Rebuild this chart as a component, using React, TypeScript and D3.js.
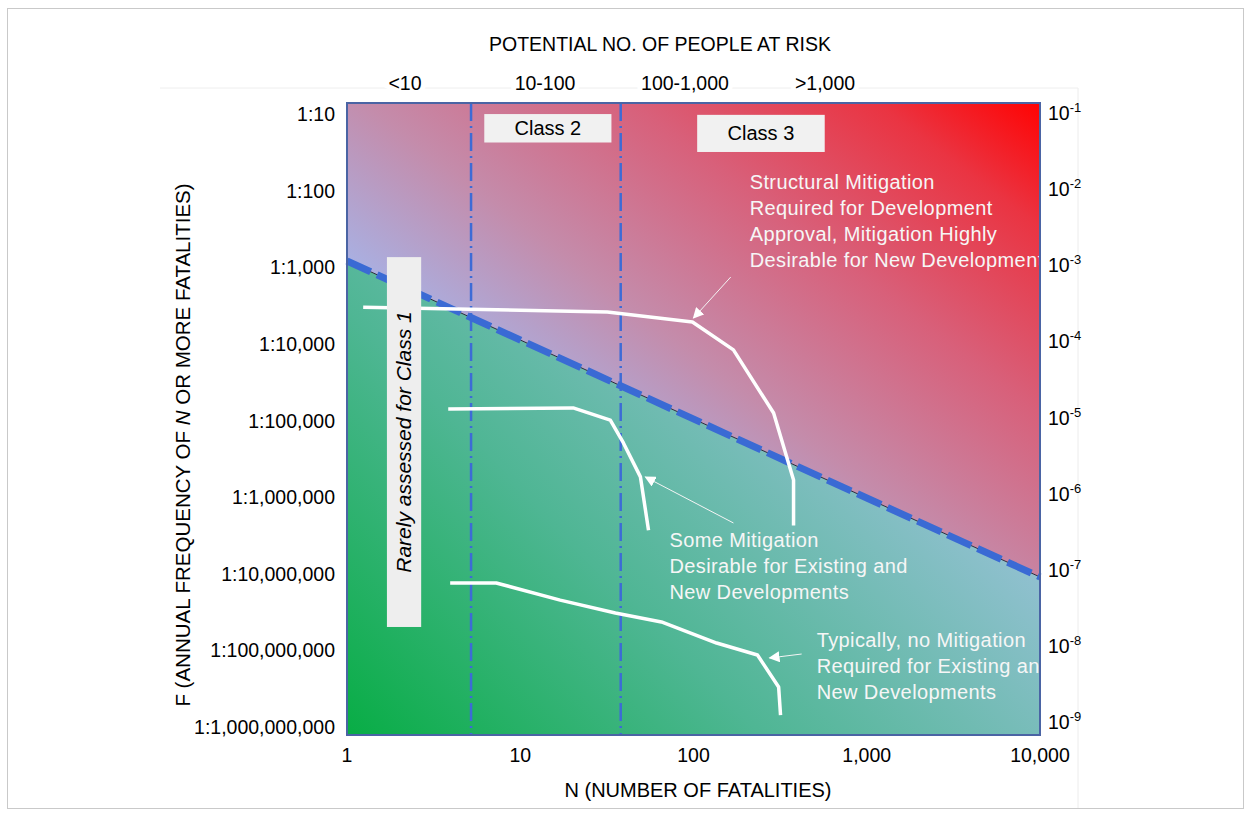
import * as d3 from "d3";

// axes
const nTicks = [1, 10, 100, 1000, 10000];
const nTickLabels = ["1", "10", "100", "1,000", "10,000"];
const fTicks = [1e-1, 1e-2, 1e-3, 1e-4, 1e-5, 1e-6, 1e-7, 1e-8, 1e-9];
const fLeftLabels = ["1:10", "1:100", "1:1,000", "1:10,000", "1:100,000", "1:1,000,000", "1:10,000,000", "1:100,000,000", "1:1,000,000,000"];
const fRightExp = ["-1", "-2", "-3", "-4", "-5", "-6", "-7", "-8", "-9"];
const riskCategories = ["<10", "10-100", "100-1,000", ">1,000"];

// class boundaries (N) and the criterion line
const classBounds = [5.2, 38];
const criterionN = [1, 10000];
const criterionF = [1e-3, 1e-7];

// white F-N curves
const upperN = [1.24, 31.8, 98.6, 170, 290, 378, 378];
const upperF = [2.6e-4, 2.26e-4, 1.69e-4, 7.5e-5, 1.19e-5, 1.69e-6, 4.5e-7];
const middleN = [3.84, 20.2, 33.1, 39.4, 49.4, 55];
const middleF = [1.34e-5, 1.38e-5, 9.7e-6, 4.97e-6, 1.85e-6, 3.9e-7];
const lowerN = [3.94, 7.27, 17.0, 35.4, 65.3, 136, 234, 310, 318];
const lowerF = [8.4e-8, 8.4e-8, 5.1e-8, 3.5e-8, 2.7e-8, 1.46e-8, 1.03e-8, 4.06e-9, 1.79e-9];

// boxes [n0, n1, fTop, fBottom]
const class2Box = [6.2, 33.6, 10 ** -1.14, 10 ** -1.5];
const class3Box = [105, 572, 10 ** -1.15, 10 ** -1.62];
const class1Box = [1.7, 2.68, 1.12e-3, 2.33e-8];

// annotations: anchor N, F (first baseline), lines
const notes = [
  { n: 211, f: 10 ** -2.089, lines: ["Structural Mitigation", "Required for Development", "Approval, Mitigation Highly", "Desirable for New Development"] },
  { n: 72.6, f: 10 ** -6.62, lines: ["Some Mitigation", "Desirable for Existing and", "New Developments"] },
  { n: 514, f: 10 ** -7.886, lines: ["Typically, no Mitigation", "Required for Existing and", "New Developments"] },
];
// arrows [tailN, tailF, headN, headF]
const arrows = [
  [164, 10 ** -3.203, 100, 10 ** -3.722],
  [170, 10 ** -6.316, 52.8, 10 ** -5.734],
  [421, 10 ** -7.975, 275, 10 ** -8.025],
];

const font = "'Liberation Sans', Arial, sans-serif";

export default function App() {
  const x = d3.scaleLog().domain([1, 10000]).range([347, 1040]);
  const y = d3.scaleLog().domain([1e-1, 1e-9]).range([103, 735]);
  const yLabel = d3.scaleLog().domain([1e-1, 1e-9]).range([114, 727]);
  const yLabelR = d3.scaleLog().domain([1e-1, 1e-9]).range([113, 722]);
  const cat = d3.scalePoint().domain(riskCategories).range([405, 825]);

  const [x0, x1] = x.range();
  const [y0, y1] = y.range();

  const line = d3.line<[number, number]>().x(d => x(d[0])).y(d => y(d[1]));
  const zipped = (ns: number[], fs: number[]) => ns.map((n, i) => [n, fs[i]] as [number, number]);

  const crit = zipped(criterionN, criterionF);
  const upperPoly = [[x0, y0], [x1, y0], [x(crit[1][0]), y(crit[1][1])], [x(crit[0][0]), y(crit[0][1])]];
  const lowerPoly = [[x(crit[0][0]), y(crit[0][1])], [x(crit[1][0]), y(crit[1][1])], [x1, y1], [x0, y1]];
  const poly = (p: number[][]) => "M" + p.map(q => q.join(",")).join("L") + "Z";

  const box = (b: number[]) => ({ x: x(b[0]), y: y(b[2]), w: x(b[1]) - x(b[0]), h: y(b[3]) - y(b[2]) });
  const c2 = box(class2Box), c3 = box(class3Box), c1 = box(class1Box);

  return (
    <svg width={1250} height={815} style={{ position: "absolute", left: 0, top: 0, background: "#fff" }} fontFamily={font}>
      <defs>
        <linearGradient id="upperGrad" gradientUnits="userSpaceOnUse" x1={347} y1={262} x2={678} y2={-172}>
          <stop offset="0" stopColor="#a9b0e2" />
          <stop offset="0.25" stopColor="#c48cab" />
          <stop offset="0.55" stopColor="#d8607a" />
          <stop offset="0.82" stopColor="#ea3442" />
          <stop offset="1" stopColor="#ff0303" />
        </linearGradient>
        <linearGradient id="lowerGrad" gradientUnits="userSpaceOnUse" x1={347} y1={735} x2={820} y2={273}>
          <stop offset="0" stopColor="#08ad45" />
          <stop offset="0.45" stopColor="#4fb694" />
          <stop offset="1" stopColor="#9cc2da" />
        </linearGradient>
        <clipPath id="plotClip">
          <rect x={x0} y={y0} width={x1 - x0} height={y1 - y0} />
        </clipPath>
        <marker id="arrowHead" viewBox="0 0 10 10" refX="9" refY="5" markerWidth="11" markerHeight="11" markerUnits="userSpaceOnUse" orient="auto">
          <path d="M0,0L10,5L0,10Z" fill="#fff" />
        </marker>
      </defs>

      {/* outer frame */}
      <rect x={7.5} y={8.5} width={1236} height={800} fill="none" stroke="#c9c9c9" />
      <line x1={1078} x2={1078} y1={88} y2={808} stroke="#ececec" />
      <line x1={160} x2={1078} y1={88} y2={88} stroke="#eeeeee" />

      {/* regions */}
      <path d={poly(upperPoly)} fill="url(#upperGrad)" />
      <path d={poly(lowerPoly)} fill="url(#lowerGrad)" />

      {/* class boundaries */}
      {classBounds.map((n, i) => (
        <line key={i} x1={x(n)} x2={x(n)} y1={y0} y2={y1} stroke="#3d6bd6" strokeWidth={2.5} strokeDasharray="18,5,2,5" />
      ))}

      {/* criterion line */}
      <path d={line(crit) || ""} stroke="#2a2a3a" strokeWidth={1} fill="none" />
      <path d={line(crit) || ""} stroke="#3a6ad4" strokeWidth={7} strokeDasharray="26,7" fill="none" />

      {/* F-N curves */}
      {[zipped(upperN, upperF), zipped(middleN, middleF), zipped(lowerN, lowerF)].map((pts, i) => (
        <path key={i} d={line(pts) || ""} stroke="#fff" strokeWidth={3.5} fill="none" strokeLinejoin="round" />
      ))}

      {/* arrows */}
      {arrows.map((a, i) => (
        <line key={i} x1={x(a[0])} y1={y(a[1])} x2={x(a[2])} y2={y(a[3])} stroke="#f4f4f4" strokeWidth={1} markerEnd="url(#arrowHead)" />
      ))}

      {/* annotations */}
      <g clipPath="url(#plotClip)">
        {notes.map((nt, i) => (
          <text key={i} x={x(nt.n)} y={y(nt.f)} fill="#f6f6f6" fontSize={20} letterSpacing={0.4}>
            {nt.lines.map((l, j) => (
              <tspan key={j} x={x(nt.n)} dy={j === 0 ? 0 : 26}>{l}</tspan>
            ))}
          </text>
        ))}
      </g>

      {/* class boxes */}
      <rect x={c2.x} y={c2.y} width={c2.w} height={c2.h} fill="#f1f1f1" />
      <text x={c2.x + c2.w / 2} y={c2.y + c2.h / 2 + 7} textAnchor="middle" fontSize={20}>Class 2</text>
      <rect x={c3.x} y={c3.y} width={c3.w} height={c3.h} fill="#f1f1f1" />
      <text x={c3.x + c3.w / 2} y={c3.y + c3.h / 2 + 7} textAnchor="middle" fontSize={20}>Class 3</text>
      <rect x={c1.x} y={c1.y} width={c1.w} height={c1.h} fill="#eeeeee" />
      <text transform={`translate(${c1.x + c1.w / 2 + 7},${c1.y + c1.h / 2}) rotate(-90)`} textAnchor="middle" fontSize={21} fontStyle="italic">Rarely assessed for Class 1</text>

      {/* plot border */}
      <rect x={x0} y={y0} width={x1 - x0} height={y1 - y0} fill="none" stroke="#4a64a4" strokeWidth={2} />

      {/* top axis */}
      <text x={660} y={51} textAnchor="middle" fontSize={19.5}>POTENTIAL NO. OF PEOPLE AT RISK</text>
      {riskCategories.map(c => (
        <text key={c} x={cat(c)} y={90} textAnchor="middle" fontSize={19.5} stroke="#fff" strokeWidth={10} paintOrder="stroke">{c}</text>
      ))}

      {/* bottom axis */}
      {nTicks.map((n, i) => (
        <text key={n} x={x(n)} y={762} textAnchor="middle" fontSize={19.5}>{nTickLabels[i]}</text>
      ))}
      <text x={698} y={797} textAnchor="middle" fontSize={20}>N (NUMBER OF FATALITIES)</text>

      {/* left axis */}
      {fTicks.map((f, i) => (
        <text key={f} x={335} y={yLabel(f) + 7} textAnchor="end" fontSize={19.5}>{fLeftLabels[i]}</text>
      ))}
      <text transform="translate(190,445) rotate(-90)" textAnchor="middle" fontSize={20.5}>
        F (ANNUAL FREQUENCY OF <tspan fontStyle="italic">N</tspan> OR MORE FATALITIES)
      </text>

      {/* right axis */}
      {fTicks.map((f, i) => (
        <text key={f} x={1048} y={yLabelR(f) + 7} fontSize={19.5}>
          10<tspan dy={-8} fontSize={13}>{fRightExp[i]}</tspan>
        </text>
      ))}
    </svg>
  );
}
